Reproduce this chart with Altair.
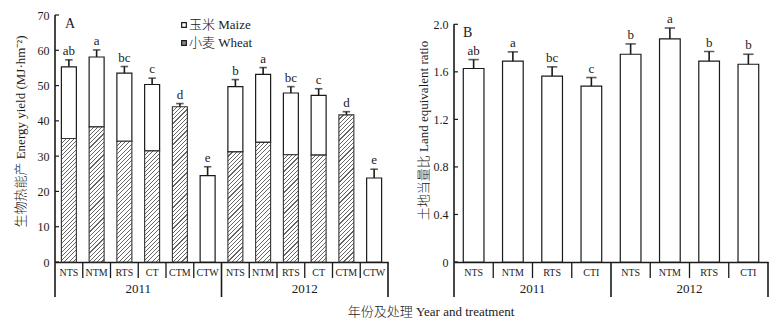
import altair as alt

# ---------------- data ----------------
years = ["2011", "2012"]
treat_a = ["NTS", "NTM", "RTS", "CT", "CTM", "CTW"]
total_a = [55.3, 58.1, 53.5, 50.3, 44.0, 24.5, 49.7, 53.2, 47.9, 47.2, 41.7, 23.8]
wheat_a = [35.0, 38.3, 34.2, 31.5, 44.0, 0.0, 31.2, 33.9, 30.4, 30.3, 41.7, 0.0]
err_a = [2.0, 2.0, 1.9, 1.8, 0.9, 2.5, 2.0, 1.9, 1.8, 1.9, 0.9, 2.5]
letters_a = ["ab", "a", "bc", "c", "d", "e", "b", "a", "bc", "c", "d", "e"]

treat_b = ["NTS", "NTM", "RTS", "CTI"]
ler_b = [1.628, 1.690, 1.564, 1.480, 1.748, 1.877, 1.690, 1.664]
err_b = [0.075, 0.078, 0.078, 0.072, 0.087, 0.092, 0.081, 0.084]
letters_b = ["ab", "a", "bc", "c", "b", "a", "b", "b"]

legend_labels = ["玉米 Maize", "小麦 Wheat"]
yticks_a = [0, 10, 20, 30, 40, 50, 60, 70]
yticks_b = [0, 0.4, 0.8, 1.2, 1.6, 2.0]

ytitle_a = "生物热能产 Energy yield (MJ·hm⁻²)"
ytitle_b = "土地当量比 Land equivalent ratio"
xtitle = "年份及处理 Year and treatment"

# ---------------- style / layout ----------------
FONT = 'Liberation Serif, "Noto Sans CJK SC", serif'
WA, HA = 333, 247
WB, HB = 314, 247
PAD_A = 0.46
PAD_B = 0.473
YMAX_A = 70
YMAX_B = 2.0 * 247 / 237.7
INK = "#1a1a1a"


def hatch(value, ymax, height, bw, period=4.2, lw=1.1, line="#666666"):
    H = value / ymax * height
    W = bw
    tot = W + H
    a = tot / (W * W + H * H)
    stops = []
    k = 0
    while k * period < tot:
        o0 = k * period / tot
        o1 = min((k * period + lw) / tot, 1)
        o2 = min((k + 1) * period / tot, 1)
        stops += [
            {"offset": o0, "color": line},
            {"offset": o1, "color": line},
            {"offset": o1, "color": "white"},
            {"offset": o2, "color": "white"},
        ]
        k += 1
    return {"gradient": "linear", "x1": 0, "y1": 0, "x2": W * a, "y2": H * a, "stops": stops}


def make_keys(treats):
    return [f"{y}|{t}" for y in years for t in treats]


keys_a = make_keys(treat_a)
keys_b = make_keys(treat_b)


def y_axis(values, title, title_y, title_pad, label_expr):
    return alt.Axis(
        values=values, title=title, domain=False, ticks=False, grid=False,
        labelPadding=6, labelFontSize=12, labelFont=FONT, labelColor=INK,
        labelExpr=label_expr,
        titleFont=FONT, titleFontSize=13, titleFontWeight=300, titleColor=INK,
        titlePadding=title_pad, titleY=title_y, labelFlush=False,
    )


def panel(keys, treats, pad, W, H, ymax, yvals, ytitle, title_y, title_pad, label_expr,
          tops, bases, hatched, errs, letters, tag, tag_xy, extra=None):
    n = len(keys)
    step = W / n
    bw = step * (1 - pad)
    xscale = alt.Scale(domain=keys, paddingInner=pad, paddingOuter=pad / 2)
    yscale = alt.Scale(domain=[0, ymax], nice=False, zero=True)
    yax = y_axis(yvals, ytitle, title_y, title_pad, label_expr)

    def X(axis=None):
        return alt.X("key:N", scale=xscale, axis=axis, title=None)

    def Y(f):
        return alt.Y(f, type="quantitative", scale=yscale, axis=yax)

    layers = []
    hrec = [{"key": k, "v": b, "hatch": hatch(b, ymax, H, bw)}
            for k, b, h in zip(keys, bases, hatched) if h and b > 0]
    wrec = [{"key": k, "base": (b if h else 0), "top": t}
            for k, b, t, h in zip(keys, bases, tops, hatched) if t - (b if h else 0) > 0.01]
    xaxis = alt.Axis(
        labelExpr="split(datum.value, '|')[1]", ticks=False, domain=True,
        domainColor=INK, domainWidth=1.6, labelPadding=5, labelFontSize=10,
        labelFont=FONT, labelColor=INK, labelAngle=0, title=None, grid=False,
    )
    layers.append(
        alt.Chart(alt.Data(values=wrec)).mark_bar(fill="white", stroke=INK, strokeWidth=1.2)
        .encode(x=X(xaxis), y=Y("base"), y2="top:Q")
    )
    if hrec:
        layers.append(
            alt.Chart(alt.Data(values=hrec)).mark_bar(stroke="#333", strokeWidth=1.1)
            .encode(x=X(), y=Y("v"), fill=alt.Fill("hatch", type="nominal", scale=None))
        )
    erec = [{"key": k, "top": t, "err": t + e, "letter": l}
            for k, t, e, l in zip(keys, tops, errs, letters)]
    edata = alt.Data(values=erec)
    layers.append(alt.Chart(edata).mark_rule(color=INK, strokeWidth=1.6)
                  .encode(x=X(), y=Y("top"), y2="err:Q"))
    layers.append(alt.Chart(edata).mark_tick(color=INK, thickness=1.6, size=bw * 0.5)
                  .encode(x=X(), y=Y("err")))
    layers.append(alt.Chart(edata).mark_text(color=INK, font=FONT, fontSize=13, dy=-5,
                                             baseline="alphabetic")
                  .encode(x=X(), y=Y("err"), text="letter:N"))
    layers.append(alt.Chart(alt.Data(values=[{"lo": 0, "hi": yvals[-1]}]))
                  .mark_rule(color=INK, strokeWidth=1.6)
                  .encode(x=alt.value(0), y=Y("lo"), y2="hi:Q"))
    layers.append(alt.Chart(alt.Data(values=[{"t": v} for v in yvals]))
                  .mark_rule(color=INK, strokeWidth=1.2)
                  .encode(x=alt.value(0), x2=alt.value(4), y=Y("t")))
    nt = len(treats)
    iscale = alt.Scale(domain=[0, n], nice=False, zero=False)
    seps = [{"i": i} for i in range(1, n) if i % nt != 0]
    longs = [{"i": i * nt} for i in range(len(years) + 1)]
    yl = [{"i": (j + 0.5) * nt, "y": y} for j, y in enumerate(years)]
    layers.append(alt.Chart(alt.Data(values=seps)).mark_rule(color=INK, strokeWidth=1.3)
                  .encode(x=alt.X("i:Q", scale=iscale, axis=None),
                          y=alt.value(H), y2=alt.value(H + 16)))
    layers.append(alt.Chart(alt.Data(values=longs)).mark_rule(color=INK, strokeWidth=1.6)
                  .encode(x=alt.X("i:Q", scale=iscale, axis=None),
                          y=alt.value(H), y2=alt.value(H + 35)))
    layers.append(alt.Chart(alt.Data(values=yl)).mark_text(color=INK, font=FONT, fontSize=13,
                                                           baseline="middle")
                  .encode(x=alt.X("i:Q", scale=iscale, axis=None),
                          y=alt.value(H + 27), text="y:N"))
    layers.append(alt.Chart(alt.Data(values=[{"t": tag}])).mark_text(
        color=INK, font=FONT, fontSize=14, align="left", baseline="middle")
        .encode(x=alt.value(tag_xy[0]), y=alt.value(tag_xy[1]), text="t:N"))
    if extra:
        layers += extra
    return alt.layer(*layers).resolve_scale(x="independent").properties(width=W, height=H)


legend_fill = ["white", "#8a8a8a"]
extra_a = []
for j, (lab, f) in enumerate(zip(legend_labels, legend_fill)):
    d = alt.Data(values=[{"t": lab}])
    extra_a.append(alt.Chart(d).mark_point(shape="square", size=22, filled=True, fill=f,
                                           stroke=INK, strokeWidth=1.2, opacity=1)
                   .encode(x=alt.value(129), y=alt.value(10 + 18 * j)))
    extra_a.append(alt.Chart(d).mark_text(color=INK, font=FONT, fontSize=13, align="left",
                                          baseline="middle", fontWeight=300)
                   .encode(x=alt.value(134), y=alt.value(10 + 18 * j), text="t:N"))
extra_a.append(alt.Chart(alt.Data(values=[{"t": xtitle}])).mark_text(
    color=INK, font=FONT, fontSize=13, align="center", baseline="middle", fontWeight=300)
    .encode(x=alt.value(376), y=alt.value(297), text="t:N"))

hatched_a = [w > 0 for w in wheat_a]
panel_a = panel(keys_a, treat_a, PAD_A, WA, HA, YMAX_A, yticks_a, ytitle_a, 116, 10,
                "format(datum.value, 'd')",
                total_a, wheat_a, hatched_a, err_a, letters_a, "A", (10, 9), extra_a)
panel_b = panel(keys_b, treat_b, PAD_B, WB, HB, YMAX_B, yticks_b, ytitle_b, 115, 3,
                "datum.value == 0 ? '0' : format(datum.value, '.1f')",
                ler_b, [0] * len(ler_b), [False] * len(ler_b), err_b, letters_b, "B", (9, 18))

chart = alt.hconcat(panel_a, panel_b, spacing=66, bounds="flush").properties(
    autosize=alt.AutoSizeParams(type="none"),
    padding={"left": 55, "top": 15, "right": 780 - 55, "bottom": 321 - 15},
    background="white",
).configure_view(strokeWidth=0)

chart.save("out.html", embed_options={"renderer": "svg", "actions": False})
